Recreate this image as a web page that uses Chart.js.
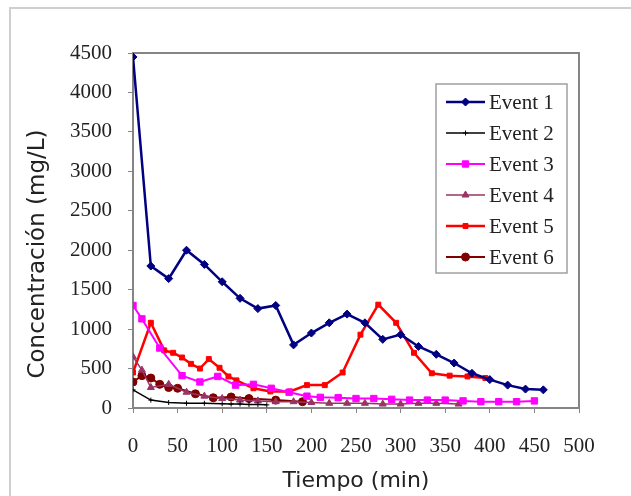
<!DOCTYPE html>
<html>
<head>
<meta charset="utf-8">
<script src="https://cdn.jsdelivr.net/npm/chart.js@4.4.1/dist/chart.umd.min.js"></script>
<style>
  html, body { margin: 0; padding: 0; background: #fff; }
  #wrap { width: 631px; height: 496px; position: relative; }
</style>
</head>
<body>
<div id="wrap"><canvas id="chart" width="631" height="496"></canvas></div>
<script>
// values
var t1 = [0,20,40,60,80,100,120,140,160,180,200,220,240,260,280,300,320,340,360,380,400,420,440,460];
var c1 = [4450,1800,1640,2000,1820,1600,1390,1260,1300,800,950,1080,1190,1080,870,930,780,680,570,440,360,290,240,230];

var t2 = [0,20,40,60,80,100,110,120,130,140,150];
var c2 = [230,100,70,60,60,55,50,50,45,45,40];

var t3 = [0,10,30,55,75,95,115,135,155,175,195,210,230,250,270,290,310,330,350,370,390,410,430,450];
var c3 = [1300,1130,760,410,330,400,290,300,250,200,150,135,130,120,120,110,100,100,100,90,80,80,80,90];

var t4 = [0,10,20,40,60,80,100,120,140,160,180,200,220,240,260,280,300,320,340,365];
var c4 = [650,480,260,300,200,150,120,100,90,80,80,70,60,60,60,50,50,60,60,50];

var t5 = [0,20,35,45,55,65,75,85,97,107,116,135,154,176,195,215,235,255,275,295,315,335,355,375,395];
var c5 = [450,1080,730,700,640,560,500,620,510,400,350,250,210,210,290,290,450,930,1310,1080,700,440,410,400,380];

var t6 = [0,10,20,30,40,50,70,90,110,130,160,190];
var c6 = [330,410,380,300,260,250,180,130,140,120,100,80];

var seriesNames = ['Event 1','Event 2','Event 3','Event 4','Event 5','Event 6'];
var xTicks = [0,50,100,150,200,250,300,350,400,450,500];
var yTicks = [0,500,1000,1500,2000,2500,3000,3500,4000,4500];
var yTitle = 'Concentración (mg/L)';
var xTitle = 'Tiempo (min)';

function pts(t, c) {
  var out = [];
  for (var i = 0; i < t.length; i++) out.push({x: t[i], y: c[i]});
  return out;
}

function ds(name, t, c, color, style, radius, width) {
  return {
    label: name,
    data: pts(t, c),
    borderColor: color,
    backgroundColor: color,
    borderWidth: width,
    pointStyle: style,
    pointRadius: radius,
    pointBorderWidth: 1,
    tension: 0
  };
}

var datasets = [
  ds(seriesNames[0], t1, c1, '#000080', 'rectRot', 4, 2.5),
  ds(seriesNames[1], t2, c2, '#000000', 'cross', 2.5, 1.5),
  ds(seriesNames[2], t3, c3, '#ff00ff', 'rect', 4.5, 2),
  ds(seriesNames[3], t4, c4, '#993366', 'triangle', 4, 1.5),
  ds(seriesNames[4], t5, c5, '#ff0000', 'rect', 3.5, 2.5),
  ds(seriesNames[5], t6, c6, '#800000', 'circle', 4, 2)
];

var frame = {
  id: 'frame',
  beforeDraw: function(chart) {
    var ctx = chart.ctx;
    ctx.save();
    ctx.fillStyle = '#fff';
    ctx.fillRect(0, 0, chart.width, chart.height);
    ctx.strokeStyle = '#cfcfcf';
    ctx.lineWidth = 2;
    ctx.beginPath();
    ctx.moveTo(10, chart.height);
    ctx.lineTo(10, 8);
    ctx.lineTo(chart.width, 8);
    ctx.stroke();
    // y axis title, sits a bit lower than the plot centre in the original
    ctx.translate(38, 254);
    ctx.rotate(-Math.PI / 2);
    ctx.font = '23px "DejaVu Sans"';
    ctx.fillStyle = '#222';
    ctx.textAlign = 'center';
    ctx.textBaseline = 'middle';
    ctx.fillText(yTitle, 0, 0);
    ctx.restore();
  },
  beforeDatasetsDraw: function(chart) {
    var a = chart.chartArea, ctx = chart.ctx;
    ctx.save();
    ctx.strokeStyle = '#858585';
    ctx.lineWidth = 2;
    ctx.strokeRect(a.left, a.top, a.right - a.left, a.bottom - a.top);
    ctx.restore();
  },
  afterDraw: function(chart) {
    var ctx = chart.ctx;
    var bx = 436, by = 84, bw = 131, bh = 189;
    ctx.save();
    ctx.fillStyle = '#fff';
    ctx.fillRect(bx, by, bw, bh);
    ctx.strokeStyle = '#a0a0a0';
    ctx.lineWidth = 1.5;
    ctx.strokeRect(bx, by, bw, bh);
    ctx.font = '21px "Liberation Serif"';
    ctx.textBaseline = 'middle';
    chart.data.datasets.forEach(function(d, i) {
      var y = 102 + i * 31;
      ctx.strokeStyle = d.borderColor;
      ctx.fillStyle = d.borderColor;
      ctx.lineWidth = d.borderWidth;
      ctx.beginPath();
      ctx.moveTo(446, y);
      ctx.lineTo(485, y);
      ctx.stroke();
      ctx.lineWidth = 1;
      Chart.helpers.drawPoint(ctx, {pointStyle: d.pointStyle, radius: d.pointRadius, rotation: 0, borderWidth: 1}, 465.5, y);
      ctx.fillStyle = '#222';
      ctx.fillText(d.label, 489, y + 1);
    });
    ctx.restore();
  }
};

function plain(v) { return String(v); }

var ctx = document.getElementById('chart').getContext('2d');
var chart = new Chart(ctx, {
  type: 'line',
  data: { datasets: datasets },
  plugins: [frame],
  options: {
    responsive: false,
    maintainAspectRatio: false,
    animation: false,
    layout: { padding: { left: 0, top: 53, right: 52, bottom: 0 } },
    plugins: { legend: { display: false }, tooltip: { enabled: false } },
    scales: {
      x: {
        type: 'linear',
        min: 0, max: 500,
        afterFit: function(s) { s.height = 88; },
        afterBuildTicks: function(s) { s.ticks = xTicks.map(function(v) { return {value: v}; }); },
        grid: { drawOnChartArea: false, drawTicks: true, tickLength: 5, color: '#858585', lineWidth: 1 },
        border: { display: true, color: '#858585', width: 2 },
        ticks: { color: '#222', padding: 21, maxRotation: 0, autoSkip: false, callback: plain, font: { family: '"Liberation Serif"', size: 21 } },
        title: { display: true, text: xTitle, color: '#222', padding: { top: 0, bottom: 2 }, font: { family: '"DejaVu Sans"', size: 22 } }
      },
      y: {
        min: 0, max: 4500,
        afterFit: function(s) { s.width = 133; },
        afterBuildTicks: function(s) { s.ticks = yTicks.map(function(v) { return {value: v}; }); },
        grid: { drawOnChartArea: false, drawTicks: true, tickLength: 5, color: '#858585', lineWidth: 1 },
        border: { display: true, color: '#858585', width: 2 },
        ticks: { color: '#222', padding: 16, autoSkip: false, callback: plain, font: { family: '"Liberation Serif"', size: 21 } },
        title: { display: false }
      }
    }
  }
});
</script>
</body>
</html>
